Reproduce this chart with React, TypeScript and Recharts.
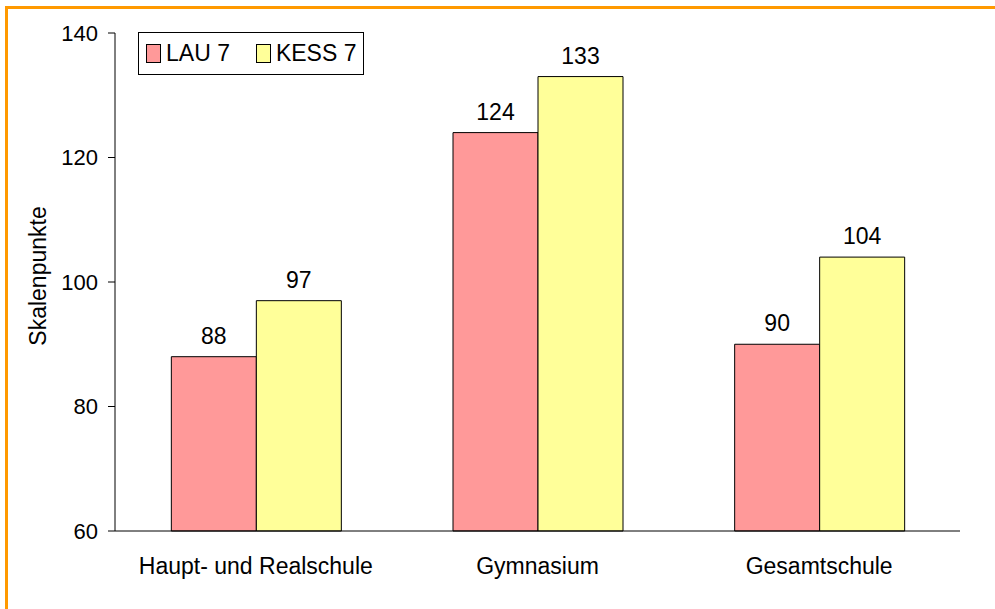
import { BarChart, Bar, XAxis, YAxis, LabelList } from 'recharts';

const categories = ['Haupt- und Realschule', 'Gymnasium', 'Gesamtschule'];
const lau7 = [88, 124, 90];
const kess7 = [97, 133, 104];
const yTicks = [60, 80, 100, 120, 140];

const seriesNames = ['LAU 7', 'KESS 7'];
const seriesColors = ['#FF9999', '#FFFF99'];

const data = categories.map((name, i) => ({
  name,
  lau: lau7[i],
  kess: kess7[i]
}));

const font = '"Liberation Sans", Arial, sans-serif';

function AxisTitle({ viewBox }: any) {
  const x = viewBox.x + 30;
  const y = viewBox.y + viewBox.height / 2 - 6;
  return (
    <text
      x={x}
      y={y}
      transform={`rotate(-90, ${x}, ${y})`}
      textAnchor="middle"
      dominantBaseline="central"
      fontSize={23}
      fontFamily={font}
      fill="#000"
    >
      Skalenpunkte
    </text>
  );
}

export default function App() {
  return (
    <div
      style={{
        position: 'absolute',
        left: 0,
        top: 0,
        width: 995,
        height: 609,
        background: '#fff',
        overflow: 'hidden',
        fontFamily: font
      }}
    >
      <div
        style={{
          position: 'absolute',
          left: 5,
          top: 6,
          width: 995,
          height: 609,
          borderTop: '3px solid #FF9900',
          borderLeft: '3px solid #FF9900'
        }}
      />

      <BarChart
        width={995}
        height={609}
        data={data}
        margin={{ top: 33, right: 35, bottom: 48, left: 8 }}
        barCategoryGap="20%"
        barGap={0}
      >
        <XAxis
          dataKey="name"
          height={30}
          axisLine={{ stroke: '#000' }}
          tickLine={false}
          tickSize={0}
          tickMargin={27}
          tick={{ fill: '#000', fontSize: 23, fontFamily: font }}
        />
        <YAxis
          width={107}
          domain={[60, 140]}
          ticks={yTicks}
          axisLine={{ stroke: '#000' }}
          tickLine={{ stroke: '#000' }}
          tickSize={7}
          tickMargin={10}
          tick={{ fill: '#000', fontSize: 22, fontFamily: font }}
          label={<AxisTitle />}
        />
        <Bar dataKey="lau" fill={seriesColors[0]} stroke="#000" strokeWidth={1} isAnimationActive={false}>
          <LabelList dataKey="lau" position="top" offset={13} fill="#000" fontSize={23} fontFamily={font} />
        </Bar>
        <Bar dataKey="kess" fill={seriesColors[1]} stroke="#000" strokeWidth={1} isAnimationActive={false}>
          <LabelList dataKey="kess" position="top" offset={13} fill="#000" fontSize={23} fontFamily={font} />
        </Bar>
      </BarChart>

      {/* legend box */}
      <div
        style={{
          position: 'absolute',
          left: 138,
          top: 32,
          width: 226,
          height: 43,
          boxSizing: 'border-box',
          border: '1px solid #000',
          background: '#fff',
          display: 'flex',
          alignItems: 'center',
          paddingLeft: 7
        }}
      >
        {seriesNames.map((n, i) => (
          <div key={n} style={{ display: 'flex', alignItems: 'center', marginRight: i === 0 ? 26 : 0 }}>
            <span
              style={{
                display: 'inline-block',
                width: 15,
                height: 19,
                boxSizing: 'border-box',
                border: '1px solid #000',
                background: seriesColors[i],
                marginRight: 5
              }}
            />
            <span style={{ fontSize: 23, color: '#000', lineHeight: '23px' }}>{n}</span>
          </div>
        ))}
      </div>
    </div>
  );
}
